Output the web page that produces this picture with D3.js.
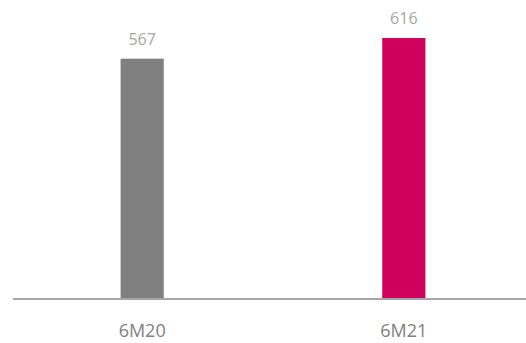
<!DOCTYPE html>
<html>
<head>
<meta charset="utf-8">
<script src="https://cdn.jsdelivr.net/npm/d3@7"></script>
<style>
  body { margin: 0; background: #fff; }
  svg text { font-family: "Open Sans", "DejaVu Sans", sans-serif; }
</style>
</head>
<body>
<svg id="chart"></svg>
<script>
  // chart data
  const categories = ['6M20', '6M21'];
  const values = [567, 616];
  const barColors = ['#808080', '#d0005e'];

  const width = 526;
  const height = 343;
  const baseY = 298;

  const svg = d3.select('#chart')
    .attr('width', width)
    .attr('height', height);

  const x = d3.scaleBand()
    .domain(categories)
    .range([12, 534])
    .paddingInner(0.835)
    .paddingOuter(0.415);

  const y = d3.scaleLinear()
    .domain([0, 616])
    .range([baseY, 38]);

  svg.selectAll('rect.bar')
    .data(values)
    .enter().append('rect')
    .attr('class', 'bar')
    .attr('x', (d, i) => x(categories[i]))
    .attr('y', (d) => y(d))
    .attr('width', x.bandwidth())
    .attr('height', (d) => y(0) - y(d))
    .attr('fill', (d, i) => barColors[i]);

  // baseline
  svg.append('line')
    .attr('x1', 13)
    .attr('x2', width)
    .attr('y1', y(0) + 1)
    .attr('y2', y(0) + 1)
    .attr('stroke', '#a6a6a6')
    .attr('stroke-width', 2);

  svg.selectAll('text.value')
    .data(values)
    .enter().append('text')
    .attr('class', 'value')
    .attr('x', (d, i) => x(categories[i]) + x.bandwidth() / 2)
    .attr('y', (d) => y(d) - 14)
    .attr('text-anchor', 'middle')
    .attr('font-size', 16)
    .attr('fill', '#a6a6a6')
    .text((d) => d);

  svg.selectAll('text.cat')
    .data(categories)
    .enter().append('text')
    .attr('class', 'cat')
    .attr('x', (d) => x(d) + x.bandwidth() / 2)
    .attr('y', 337)
    .attr('text-anchor', 'middle')
    .attr('font-size', 18)
    .attr('fill', '#808080')
    .text((d) => d);
</script>
</body>
</html>
